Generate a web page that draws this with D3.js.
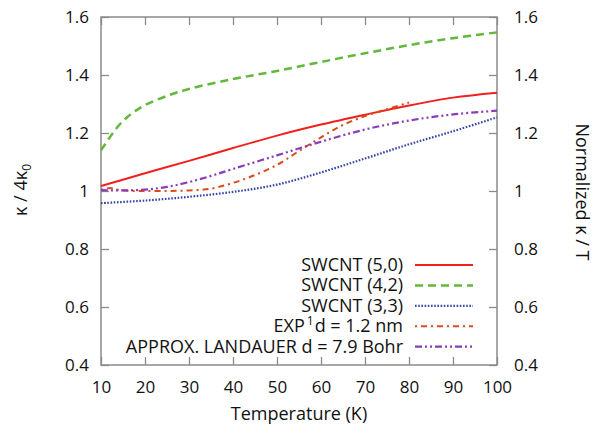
<!DOCTYPE html>
<html>
<head>
<meta charset="utf-8">
<script src="https://cdn.jsdelivr.net/npm/d3@7"></script>
<style>
  html, body { margin: 0; padding: 0; background: #fff; }
  svg text { font-family: "Open Sans", "Noto Sans", sans-serif; fill: #111; }
</style>
</head>
<body>
<svg id="chart" width="596" height="426"></svg>
<script>
// Temperature grids (K) for each curve
const tempsMain = [10, 20, 30, 40, 50, 60, 70, 80, 90, 100];
const tempsGreen = [10, 12, 14, 16, 18, 20, 25, 30, 40, 50, 60, 70, 80, 90, 100];
const tempsLandauer = [10, 15, 20, 25, 30, 35, 40, 50, 60, 70, 80, 90, 100];
const tempsExp = [10, 12, 14, 17, 20, 25, 30, 35, 40, 45, 50, 55, 60, 65, 70, 75, 80];

// Normalised conductance values
const swcnt50 = [1.017, 1.061, 1.104, 1.148, 1.191, 1.229, 1.263, 1.295, 1.322, 1.339];
const swcnt42 = [1.14, 1.185, 1.225, 1.255, 1.278, 1.296, 1.328, 1.352, 1.386, 1.414, 1.445, 1.475, 1.503, 1.527, 1.547];
const swcnt33 = [0.958, 0.967, 0.980, 0.997, 1.022, 1.064, 1.112, 1.161, 1.206, 1.254];
const expData = [1.004, 1.01, 1.004, 1.0, 1.0, 1.0, 1.002, 1.008, 1.028, 1.055, 1.09, 1.138, 1.185, 1.228, 1.258, 1.282, 1.305];
const landauer = [1.003, 1.002, 1.005, 1.014, 1.031, 1.052, 1.076, 1.123, 1.170, 1.212, 1.243, 1.264, 1.277];

// Axis ticks
const xTicks = [10, 20, 30, 40, 50, 60, 70, 80, 90, 100];
const yTicks = [0.4, 0.6, 0.8, 1.0, 1.2, 1.4, 1.6];
const yTickLabels = ["0.4", "0.6", "0.8", "1", "1.2", "1.4", "1.6"];

const series = [
  { name: "SWCNT (5,0)", t: tempsMain, v: swcnt50, color: "#f0201e", width: 2, dash: null },
  { name: "SWCNT (4,2)", t: tempsGreen, v: swcnt42, color: "#62b83a", width: 2.5, dash: "8,5" },
  { name: "SWCNT (3,3)", t: tempsMain, v: swcnt33, color: "#3346a8", width: 2.2, dash: "1.6,1.6" },
  { name: "EXP", sup: "1", rest: "d = 1.2 nm", t: tempsExp, v: expData, color: "#dc4a17", width: 2, dash: "2,4,6,4" },
  { name: "APPROX. LANDAUER d = 7.9 Bohr", t: tempsLandauer, v: landauer, color: "#8a3dbb", width: 2.2, dash: "7,3,2,3,2,3" }
];

const svg = d3.select("#chart");
const m = { left: 101, right: 497, top: 17, bottom: 365 };

const x = d3.scaleLinear().domain([10, 100]).range([m.left, m.right]);
const y = d3.scaleLinear().domain([0.4, 1.6]).range([m.bottom, m.top]);

const axisColor = "#8a8a8a";
const tickLen = 8;

// Frame
svg.append("rect")
  .attr("x", m.left).attr("y", m.top)
  .attr("width", m.right - m.left).attr("height", m.bottom - m.top)
  .attr("fill", "none").attr("stroke", axisColor).attr("stroke-width", 1.5);

// Axes with inward ticks
const fs = 17, fsTitle = 18;
const bottomAxis = d3.axisBottom(x).tickValues(xTicks).tickSize(-tickLen).tickPadding(tickLen + 8).tickFormat(d3.format("d"));
const topAxis = d3.axisTop(x).tickValues(xTicks).tickSize(-tickLen).tickFormat("");
const leftAxis = d3.axisLeft(y).tickValues(yTicks).tickSize(-tickLen).tickPadding(tickLen + 4).tickFormat((d, i) => yTickLabels[i]);
const rightAxis = d3.axisRight(y).tickValues(yTicks).tickSize(-tickLen).tickPadding(tickLen + 9).tickFormat((d, i) => yTickLabels[i]);

function styleAxis(g) {
  g.select(".domain").remove();
  g.selectAll(".tick line").attr("stroke", axisColor).attr("stroke-width", 1.3);
  g.selectAll(".tick text").attr("font-size", fs).attr("fill", "#111")
    .attr("font-family", "'Open Sans', 'Noto Sans', sans-serif");
}

svg.append("g").attr("transform", `translate(0,${m.bottom})`).call(bottomAxis).call(styleAxis);
svg.append("g").attr("transform", `translate(0,${m.top})`).call(topAxis).call(styleAxis);
svg.append("g").attr("transform", `translate(${m.left},0)`).call(leftAxis).call(styleAxis);
svg.append("g").attr("transform", `translate(${m.right},0)`).call(rightAxis).call(styleAxis);

// Axis titles
svg.append("text")
  .attr("x", (m.left + m.right) / 2).attr("y", 420)
  .attr("text-anchor", "middle").attr("font-size", fsTitle)
  .text("Temperature (K)");

const lt = svg.append("text")
  .attr("transform", "translate(27,190) rotate(-90)")
  .attr("text-anchor", "middle").attr("font-size", fsTitle);
lt.append("tspan").text("κ / 4κ");
lt.append("tspan").attr("font-size", 12).attr("dy", 4).text("0");

svg.append("text")
  .attr("transform", "translate(576,192) rotate(90)")
  .attr("text-anchor", "middle").attr("font-size", fsTitle)
  .text("Normalized κ / T");

// Curves
const line = d3.line().curve(d3.curveCatmullRom.alpha(0.5));
series.forEach(s => {
  const pts = s.t.map((t, i) => [x(t), y(s.v[i])]);
  svg.append("path")
    .attr("d", line(pts))
    .attr("fill", "none")
    .attr("stroke", s.color)
    .attr("stroke-width", s.width)
    .attr("stroke-dasharray", s.dash);
});

// Legend
const legRight = 403, legY0 = 265, legStep = 20.4, sx0 = 415, sx1 = 473;
series.forEach((s, i) => {
  const yy = legY0 + i * legStep;
  const t = svg.append("text")
    .attr("x", legRight).attr("y", yy + 6)
    .attr("text-anchor", "end").attr("font-size", fsTitle);
  if (s.sup) {
    t.append("tspan").text(s.name);
    t.append("tspan").attr("font-size", 12).attr("dy", -7).attr("dx", 2).text(s.sup);
    t.append("tspan").attr("dy", 7).attr("dx", 1).text(s.rest);
  } else {
    t.text(s.name);
  }
  svg.append("line")
    .attr("x1", sx0).attr("x2", sx1).attr("y1", yy).attr("y2", yy)
    .attr("stroke", s.color).attr("stroke-width", s.width)
    .attr("stroke-dasharray", s.dash);
});
</script>
</body>
</html>
